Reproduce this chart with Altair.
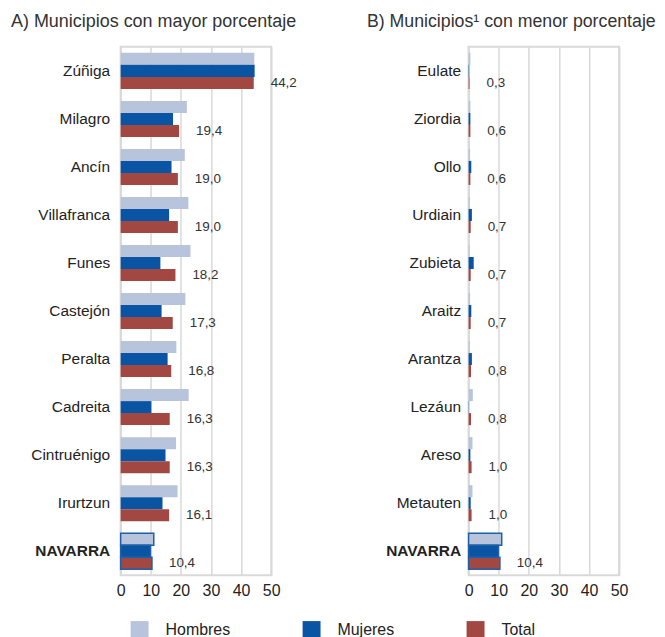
import altair as alt
import pandas as pd

series = ["Hombres", "Mujeres", "Total"]
colors = ["#b8c4dc", "#0a55a3", "#a24742"]

mun_a = ["Zúñiga", "Milagro", "Ancín", "Villafranca", "Funes", "Castejón",
         "Peralta", "Cadreita", "Cintruénigo", "Irurtzun", "NAVARRA"]
hom_a = [44.4, 22.0, 21.3, 22.5, 23.2, 21.5, 18.5, 22.6, 18.4, 18.9, 11.0]
muj_a = [44.5, 17.4, 16.9, 16.1, 13.2, 13.6, 15.6, 10.2, 14.9, 13.9, 9.9]
tot_a = [44.2, 19.4, 19.0, 19.0, 18.2, 17.3, 16.8, 16.3, 16.3, 16.1, 10.4]

mun_b = ["Eulate", "Ziordia", "Ollo", "Urdiain", "Zubieta", "Araitz",
         "Arantza", "Lezáun", "Areso", "Metauten", "NAVARRA"]
hom_b = [0.6, 0.6, 0.5, 0.4, 0.3, 0.5, 0.4, 1.4, 1.3, 1.3, 11.0]
muj_b = [0.2, 0.6, 0.9, 1.1, 1.7, 0.9, 1.1, 0.1, 0.6, 0.7, 9.9]
tot_b = [0.3, 0.6, 0.6, 0.7, 0.7, 0.7, 0.8, 0.8, 1.0, 1.0, 10.4]

title_a = "A) Municipios con mayor porcentaje"
title_b = "B) Municipios¹ con menor porcentaje"
x_ticks = [0, 10, 20, 30, 40, 50]

FONT = "Liberation Sans"


def panel(muns, h, m, t, title, label_pad, title_dx, title_size):
    rows = []
    for i, mu in enumerate(muns):
        for s, v in zip(series, (h[i], m[i], t[i])):
            rows.append({"Municipio": mu, "Serie": s, "Valor": v,
                         "Etiqueta": f"{v:.1f}".replace(".", ",")})
    df = pd.DataFrame(rows)
    y = alt.Y(
        "Municipio:N", sort=muns,
        scale=alt.Scale(paddingInner=0.25, paddingOuter=0.125),
        axis=alt.Axis(title=None, ticks=False, domain=False, grid=False,
                      labelFontSize=15.5, labelFont=FONT, labelColor="#222",
                      labelPadding=label_pad, minExtent=107, maxExtent=107,
                      labelFontWeight={"expr": "datum.value === 'NAVARRA' ? 'bold' : 'normal'"}),
    )
    yoff = alt.YOffset("Serie:N", sort=series,
                       scale=alt.Scale(domain=series, paddingInner=0, paddingOuter=0))
    x = alt.X(
        "Valor:Q",
        scale=alt.Scale(domain=[0, 50], nice=False, zero=True),
        axis=alt.Axis(title=None, values=x_ticks, ticks=False, domain=False,
                      grid=True, gridColor="#d9d9d9", gridWidth=1.5,
                      labelFontSize=16, labelFont=FONT, labelColor="#222",
                      labelPadding=7, labelFlush=False),
    )
    color = alt.Color(
        "Serie:N", sort=series,
        scale=alt.Scale(domain=series, range=colors),
        legend=alt.Legend(title=None, orient="none", legendX=10, legendY=576,
                          direction="horizontal", symbolType="square",
                          symbolSize=324, symbolStrokeWidth=0,
                          labelFontSize=16, labelFont=FONT, labelColor="#222",
                          labelOffset=17, columnPadding=72.5, padding=0),
    )
    base = alt.Chart(df)
    bars = base.mark_bar(stroke="#1f5fa8").encode(
        x=x, y=y, yOffset=yoff, color=color,
        strokeWidth=alt.condition("datum.Municipio === 'NAVARRA'",
                                  alt.value(1.5), alt.value(0)),
    )
    text = base.transform_filter("datum.Serie === 'Total'").mark_text(
        align="left", baseline="middle", dx=17, fontSize=13.5,
        font=FONT, color="#333",
    ).encode(x=x, y=y, yOffset=yoff, text="Etiqueta:N")
    return alt.layer(bars, text).properties(
        width=151, height=530,
        title=alt.TitleParams(title, anchor="start", frame="group", dx=title_dx,
                              fontSize=title_size, font=FONT, fontWeight="normal",
                              color="#333", offset=16),
    )


left = panel(mun_a, hom_a, muj_a, tot_a, title_a, 11, -110, 18)
right = panel(mun_b, hom_b, muj_b, tot_b, title_b, 8, -102, 17.8)

chart = alt.hconcat(left, right, spacing=198, bounds="flush").resolve_scale(
    x="independent", y="independent", color="shared"
).properties(
    padding={"left": 2, "top": 3, "right": 0, "bottom": 0}
).configure_view(stroke="#d9d9d9", strokeWidth=2)

chart.save("out.html", embed_options={"renderer": "svg", "actions": False})
